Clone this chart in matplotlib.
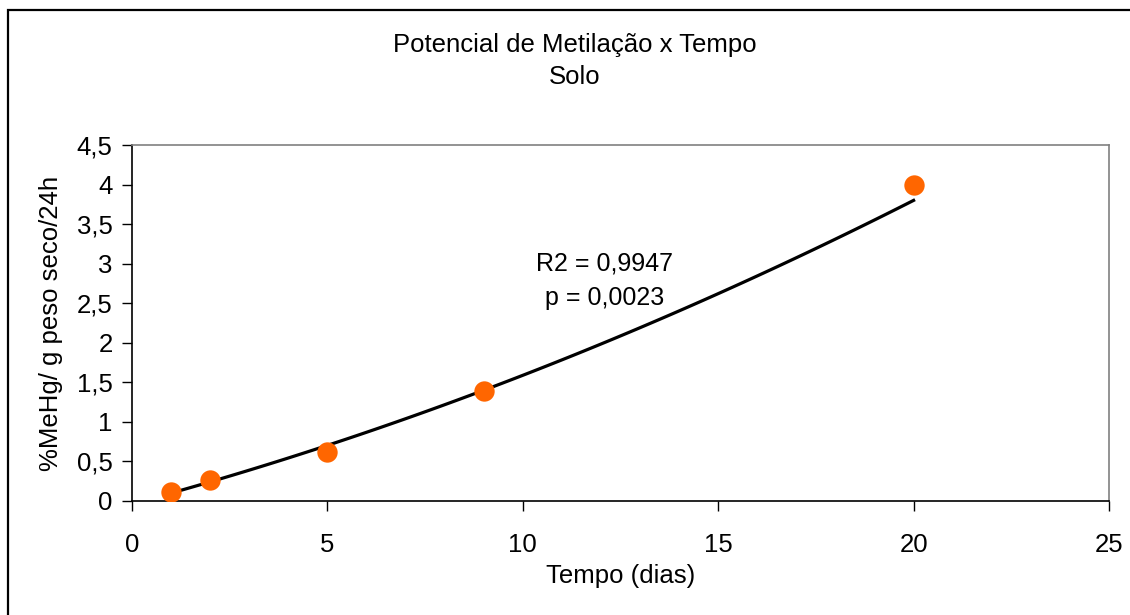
import numpy as np
import matplotlib
matplotlib.use("Agg")
from matplotlib import pyplot as plt
from matplotlib.patches import Rectangle

# dados
tempo = [1, 2, 5, 9, 20]
mehg = [0.11, 0.27, 0.62, 1.39, 3.99]
# linha de tendencia (polinomio 2a ordem, coeficientes estimados da figura)
trend_coef = [0.00293, 0.1332, -0.0361]
x_ticks = [0, 5, 10, 15, 20, 25]
y_ticks = [0, 0.5, 1, 1.5, 2, 2.5, 3, 3.5, 4, 4.5]
y_ticklabels = ["0", "0,5", "1", "1,5", "2", "2,5", "3", "3,5", "4", "4,5"]

plt.rcParams['font.family'] = ['Liberation Sans', 'DejaVu Sans']
fs = 18.5

W, H = 1130, 615
fig = plt.figure(figsize=(W/100, H/100), dpi=100)

# moldura externa (so aparecem os lados esquerdo e superior)
fig.patches.append(Rectangle((8/W, -0.1), 1.2, 1 - 10/H + 0.1, transform=fig.transFigure,
                             fill=False, edgecolor='black', linewidth=1.6))

ax = fig.add_axes([132/W, 1 - 501/H, (1109-132)/W, (501-145)/H])

ax.scatter(tempo, mehg, s=215, color='#FF6600', zorder=3, linewidths=0)
xt = np.linspace(tempo[0], tempo[-1], 100)
ax.plot(xt, np.polyval(trend_coef, xt), color='black', linewidth=2.3, zorder=2)

ax.set_xlim(0, 25)
ax.set_ylim(0, 4.5)
ax.set_xticks(x_ticks)
ax.set_xticklabels([str(v) for v in x_ticks], fontsize=fs)
ax.set_yticks(y_ticks)
ax.set_yticklabels(y_ticklabels, fontsize=fs)
ax.tick_params(axis='y', direction='out', length=7, width=1, colors='black', pad=7)
ax.tick_params(axis='x', direction='out', length=7, width=1, colors='black', pad=16)

for s in ['left', 'bottom']:
    ax.spines[s].set_color('black')
    ax.spines[s].set_linewidth(1.2)
for s in ['top', 'right']:
    ax.spines[s].set_color('#808080')
    ax.spines[s].set_linewidth(1.2)

ax.set_xlabel("Tempo (dias)", fontsize=fs, labelpad=5)
ax.set_ylabel("%MeHg/ g peso seco/24h", fontsize=fs, labelpad=10)

fig.text(575/W, 1 - 61/H, "Potencial de Metilação x Tempo\nSolo", ha='center', va='center',
         fontsize=fs, linespacing=1.4)
ax.text(12.1, 2.79, "R2 = 0,9947\np = 0,0023", ha='center', va='center', fontsize=18,
        linespacing=1.55)

fig.savefig("out.png", dpi=100, facecolor='white')
